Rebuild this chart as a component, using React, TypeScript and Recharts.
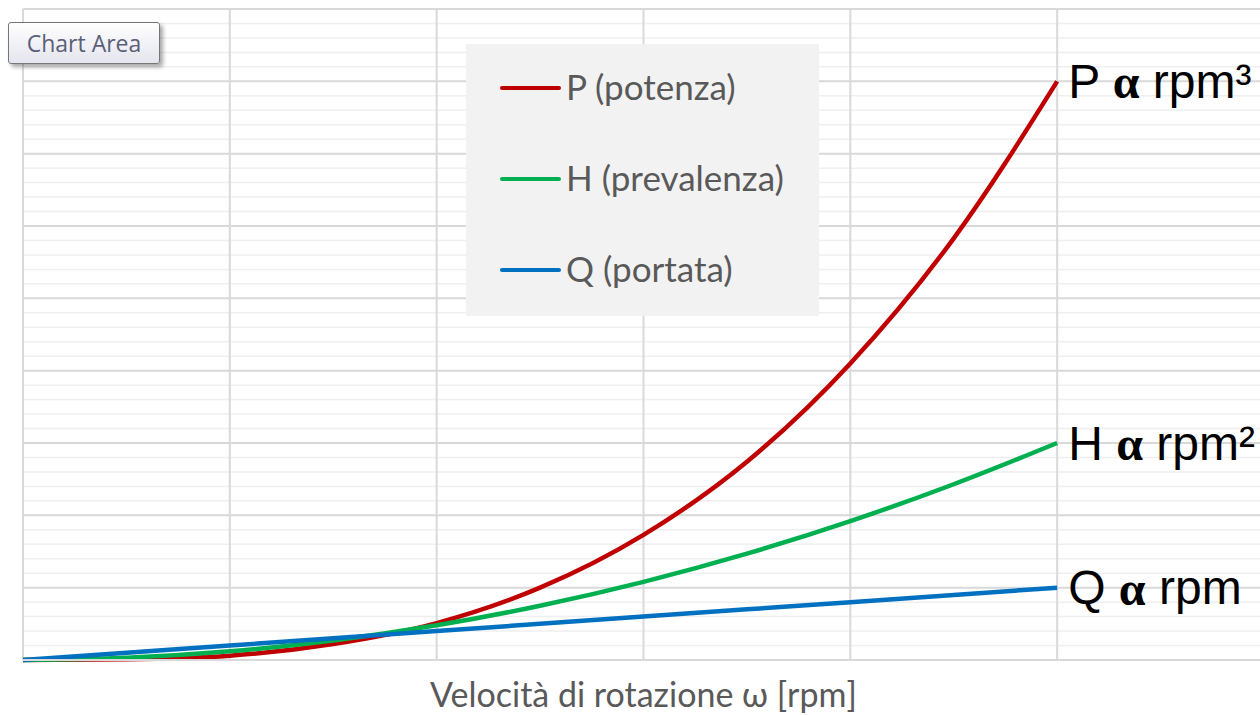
import React from 'react';
import { LineChart, Line, XAxis, YAxis, CartesianGrid } from 'recharts';

// Colori stile Excel
const COLORS = {
  red: '#C00000',
  green: '#00B050',
  blue: '#0070C0',
  gridMajor: '#d9d9d9',
  gridMinor: '#efefef',
  text: '#595959',
};

// velocità (unità di griglia) e valori
const speed = [0, 0.5, 1, 1.5, 2, 2.5, 3, 3.5, 4, 4.5, 5];
const potenza = [0, 0.01, 0.06, 0.22, 0.51, 1.0, 1.73, 2.74, 4.1, 5.83, 8];
const prevalenza = [0, 0.03, 0.12, 0.27, 0.48, 0.75, 1.08, 1.47, 1.92, 2.43, 3];
const portata = [0, 0.1, 0.2, 0.3, 0.4, 0.5, 0.6, 0.7, 0.8, 0.9, 1.0];

const xTicks = [0, 1, 2, 3, 4, 5, 6];
const yTicks = Array.from({ length: 46 }, (_, i) => Math.round(i * 20) / 100);

const series = [
  { key: 'P', name: 'P (potenza)', color: COLORS.red, label: 'P', sup: '³' },
  { key: 'H', name: 'H (prevalenza)', color: COLORS.green, label: 'H', sup: '²' },
  { key: 'Q', name: 'Q (portata)', color: COLORS.blue, label: 'Q', sup: '' },
];

const data = speed.map((x, i) => ({ x, P: potenza[i], H: prevalenza[i], Q: portata[i] }));

const lastIndex = speed.length - 1;

const EndLabel = (letter: string, sup: string) => (props: any) => {
  const { x, y, index } = props;
  if (index !== lastIndex) return null;
  return (
    <text x={x + 11} y={y} dominantBaseline="central" fontFamily="'Liberation Sans', Arial, sans-serif" fontSize={48} fill="#000">
      {letter + ' '}
      <tspan fontFamily="'Liberation Serif', serif" fontWeight="bold">α</tspan>
      {' rpm' + sup}
    </text>
  );
};

const GridH = (props: any) => {
  const { x1, x2, y1, y2, index } = props;
  const major = index % 5 === 0;
  return <line x1={x1} x2={x2} y1={y1} y2={y2} stroke={major ? COLORS.gridMajor : COLORS.gridMinor} strokeWidth={major ? 2 : 1.5} />;
};

const GridV = (props: any) => {
  const { x1, x2, y1, y2 } = props;
  return <line x1={x1} x2={x2} y1={y1} y2={y2} stroke={COLORS.gridMajor} strokeWidth={2} />;
};

const NoTick = () => <g />;

const LegendBox = () => (
  <div style={{ position: 'absolute', left: 466, top: 44, background: '#f2f2f2', width: 353, height: 272 }}>
    {series.map((s, i) => (
      <div key={s.key} style={{ position: 'absolute', left: 0, top: 44 + i * 91 - 22, height: 44, display: 'flex', alignItems: 'center' }}>
        <div style={{ marginLeft: 34, width: 61, height: 4, borderRadius: 2, background: s.color }} />
        <span style={{ marginLeft: 5, fontFamily: 'Lato, sans-serif', fontSize: 35, color: COLORS.text, marginTop: -4, whiteSpace: 'nowrap' }}>{s.name}</span>
      </div>
    ))}
  </div>
);

export default function App() {
  return (
    <div style={{ position: 'absolute', left: 0, top: 0, width: 1260, height: 715, overflow: 'hidden', background: '#fff' }}>
      <LineChart width={1270} height={715} data={data} margin={{ top: 9, left: 23, right: 6, bottom: 0 }}>
        <CartesianGrid horizontal={GridH} vertical={GridV} />
        <XAxis
          dataKey="x"
          type="number"
          domain={[0, 6]}
          ticks={xTicks}
          interval={0}
          tick={NoTick}
          tickLine={false}
          axisLine={{ stroke: COLORS.gridMajor, strokeWidth: 2 }}
          height={55}
          label={{ value: 'Velocità di rotazione ω [rpm]', position: 'insideBottom', offset: 8, fill: COLORS.text, fontSize: 34, fontFamily: 'Lato, sans-serif' }}
        />
        <YAxis hide domain={[0, 9]} ticks={yTicks} interval={0} type="number" />
        {series.map((s) => (
          <Line
            key={s.key}
            type="monotone"
            dataKey={s.key}
            name={s.name}
            stroke={s.color}
            strokeWidth={4.5}
            dot={false}
            isAnimationActive={false}
            label={EndLabel(s.label, s.sup)}
          />
        ))}
      </LineChart>
      <LegendBox />
      <div
        style={{
          position: 'absolute', left: 8, top: 22, width: 152, height: 42, boxSizing: 'border-box',
          border: '1px solid #767676', borderRadius: 3,
          background: 'linear-gradient(#ffffff, #e4e5ee)',
          boxShadow: '3px 3px 4px rgba(0,0,0,0.35)',
          fontFamily: "'Open Sans', sans-serif", fontSize: 23, color: '#5a5f78',
          display: 'flex', alignItems: 'center', justifyContent: 'center',
        }}
      >
        Chart Area
      </div>
    </div>
  );
}
